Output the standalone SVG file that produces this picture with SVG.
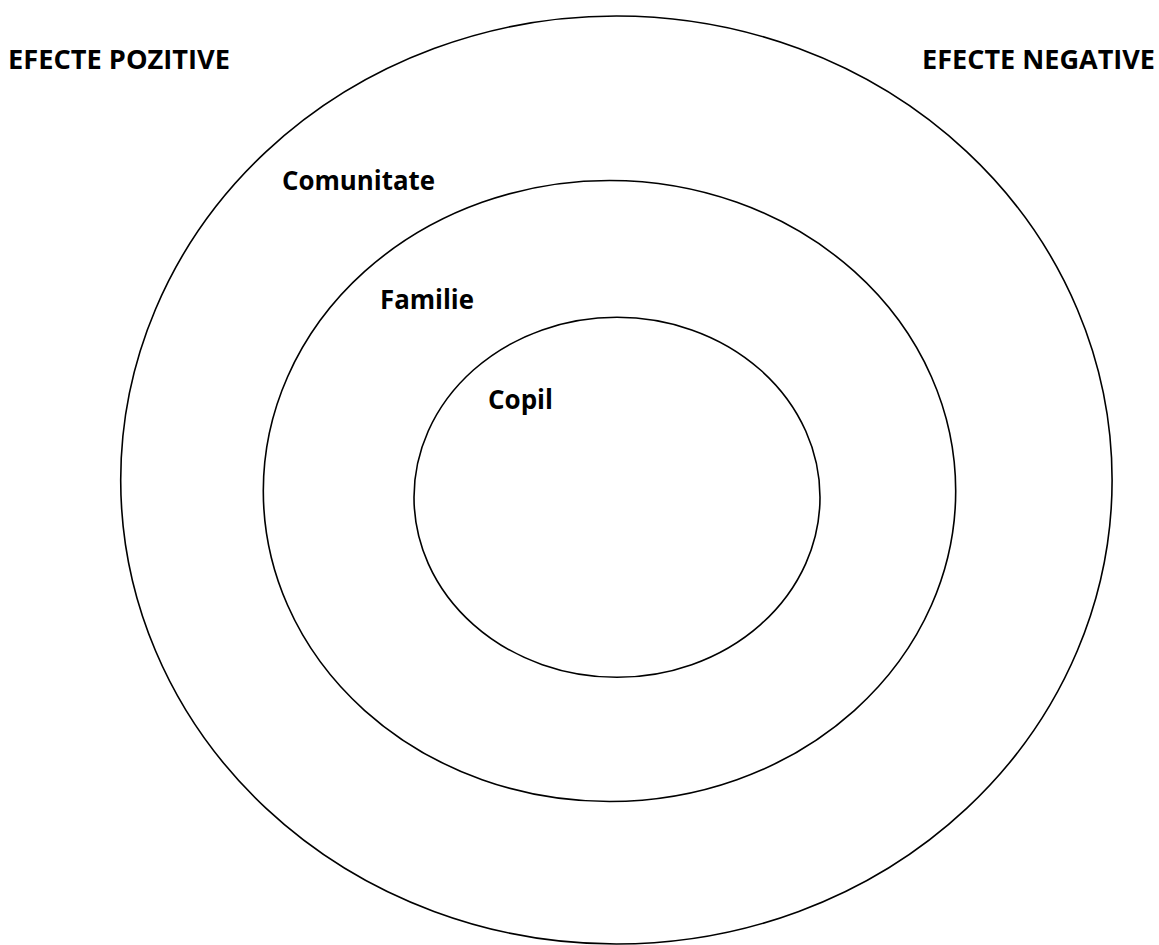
<svg xmlns="http://www.w3.org/2000/svg" width="1159" height="945" viewBox="0 0 1159 945">
<style>
.ring{fill:none;stroke:#000;stroke-width:1.6}
.hdr{font-family:"Open Sans","Liberation Sans",sans-serif;font-weight:bold;font-size:27px;fill:#000}
.lbl{font-family:"Open Sans","Liberation Sans",sans-serif;font-weight:bold;font-size:26px;fill:#000}
</style>
<rect width="1159" height="945" fill="#fff"/>
<g id="outer"><ellipse class="ring" cx="616.4" cy="480" rx="495.7" ry="464"/></g>
<g id="middle"><ellipse class="ring" cx="609.5" cy="491" rx="346.2" ry="310.5"/></g>
<g id="inner"><ellipse class="ring" cx="617" cy="497.3" rx="203" ry="180"/></g>
<g id="connectors"></g>
<g id="label-pozitive"><text class="hdr" x="8" y="69" textLength="222" lengthAdjust="spacingAndGlyphs">EFECTE POZITIVE</text></g>
<g id="label-negative"><text class="hdr" x="922" y="69" textLength="233" lengthAdjust="spacingAndGlyphs">EFECTE NEGATIVE</text></g>
<g id="label-comunitate"><text class="lbl" x="282" y="190" textLength="153" lengthAdjust="spacingAndGlyphs">Comunitate</text></g>
<g id="label-familie"><text class="lbl" x="380" y="309" textLength="94" lengthAdjust="spacingAndGlyphs">Familie</text></g>
<g id="label-copil"><text class="lbl" x="488" y="409" textLength="65" lengthAdjust="spacingAndGlyphs">Copil</text></g>
</svg>
